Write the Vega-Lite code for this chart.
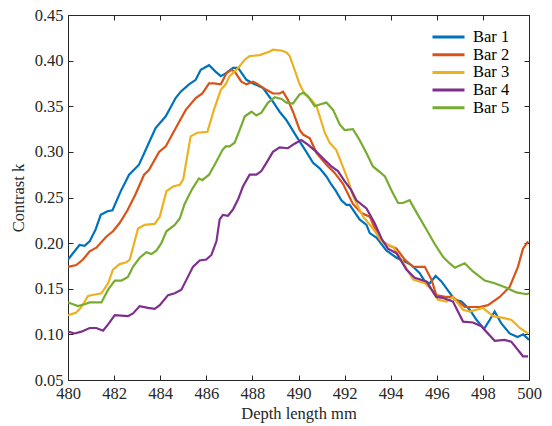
{
  "$schema": "https://vega.github.io/schema/vega-lite/v6.json",
  "autosize": {"type": "none"},
  "padding": {"left": 68, "top": 15, "right": 23, "bottom": 46},
  "width": 461,
  "height": 365,
  "background": "white",
  "config": {
    "view": {"stroke": "#262626", "strokeWidth": 1},
    "font": "Times New Roman",
    "axis": {"grid": false, "domain": false, "labelFont": "Times New Roman", "titleFont": "Times New Roman", "labelColor": "#262626", "titleColor": "#262626", "tickColor": "#262626", "labelFontSize": 16.5, "titleFontSize": 16.5, "titleFontWeight": "normal", "tickSize": -5, "tickWidth": 1},
    "legend": {"labelFont": "Times New Roman", "labelFontSize": 16.5, "labelColor": "#000000"}
  },
  "datasets": {
    "d": [
      {"s":"Bar 1","x":480.0,"y":0.182},{"s":"Bar 1","x":480.5,"y":0.198},{"s":"Bar 1","x":480.72,"y":0.197},{"s":"Bar 1","x":480.94,"y":0.202},{"s":"Bar 1","x":481.2,"y":0.215},{"s":"Bar 1","x":481.42,"y":0.231},{"s":"Bar 1","x":481.71,"y":0.235},{"s":"Bar 1","x":481.93,"y":0.236},{"s":"Bar 1","x":482.29,"y":0.257},{"s":"Bar 1","x":482.65,"y":0.275},{"s":"Bar 1","x":483.08,"y":0.286},{"s":"Bar 1","x":483.51,"y":0.31},{"s":"Bar 1","x":483.8,"y":0.326},{"s":"Bar 1","x":484.24,"y":0.339},{"s":"Bar 1","x":484.67,"y":0.359},{"s":"Bar 1","x":484.89,"y":0.366},{"s":"Bar 1","x":485.25,"y":0.374},{"s":"Bar 1","x":485.54,"y":0.379},{"s":"Bar 1","x":485.76,"y":0.39},{"s":"Bar 1","x":486.12,"y":0.395},{"s":"Bar 1","x":486.4,"y":0.388},{"s":"Bar 1","x":486.63,"y":0.383},{"s":"Bar 1","x":486.84,"y":0.386},{"s":"Bar 1","x":487.16,"y":0.392},{"s":"Bar 1","x":487.38,"y":0.392},{"s":"Bar 1","x":487.74,"y":0.379},{"s":"Bar 1","x":488.03,"y":0.375},{"s":"Bar 1","x":488.46,"y":0.37},{"s":"Bar 1","x":488.89,"y":0.355},{"s":"Bar 1","x":489.18,"y":0.344},{"s":"Bar 1","x":489.47,"y":0.335},{"s":"Bar 1","x":489.91,"y":0.317},{"s":"Bar 1","x":490.34,"y":0.3},{"s":"Bar 1","x":490.63,"y":0.288},{"s":"Bar 1","x":490.92,"y":0.282},{"s":"Bar 1","x":491.21,"y":0.273},{"s":"Bar 1","x":491.43,"y":0.264},{"s":"Bar 1","x":491.6,"y":0.258},{"s":"Bar 1","x":491.86,"y":0.247},{"s":"Bar 1","x":492.08,"y":0.242},{"s":"Bar 1","x":492.22,"y":0.242},{"s":"Bar 1","x":492.65,"y":0.226},{"s":"Bar 1","x":492.95,"y":0.22},{"s":"Bar 1","x":493.09,"y":0.211},{"s":"Bar 1","x":493.38,"y":0.206},{"s":"Bar 1","x":493.81,"y":0.192},{"s":"Bar 1","x":494.25,"y":0.184},{"s":"Bar 1","x":494.68,"y":0.179},{"s":"Bar 1","x":494.9,"y":0.176},{"s":"Bar 1","x":495.26,"y":0.167},{"s":"Bar 1","x":495.48,"y":0.158},{"s":"Bar 1","x":495.7,"y":0.156},{"s":"Bar 1","x":495.95,"y":0.164},{"s":"Bar 1","x":496.2,"y":0.158},{"s":"Bar 1","x":496.49,"y":0.148},{"s":"Bar 1","x":496.78,"y":0.138},{"s":"Bar 1","x":497.07,"y":0.136},{"s":"Bar 1","x":497.43,"y":0.127},{"s":"Bar 1","x":497.72,"y":0.116},{"s":"Bar 1","x":498.05,"y":0.106},{"s":"Bar 1","x":498.3,"y":0.116},{"s":"Bar 1","x":498.51,"y":0.125},{"s":"Bar 1","x":498.8,"y":0.112},{"s":"Bar 1","x":499.16,"y":0.101},{"s":"Bar 1","x":499.5,"y":0.097},{"s":"Bar 1","x":499.75,"y":0.1},{"s":"Bar 1","x":500.0,"y":0.094},
      {"s":"Bar 2","x":480.0,"y":0.174},{"s":"Bar 2","x":480.36,"y":0.176},{"s":"Bar 2","x":480.65,"y":0.182},{"s":"Bar 2","x":480.94,"y":0.191},{"s":"Bar 2","x":481.23,"y":0.195},{"s":"Bar 2","x":481.66,"y":0.207},{"s":"Bar 2","x":481.95,"y":0.213},{"s":"Bar 2","x":482.24,"y":0.222},{"s":"Bar 2","x":482.58,"y":0.236},{"s":"Bar 2","x":482.92,"y":0.253},{"s":"Bar 2","x":483.3,"y":0.275},{"s":"Bar 2","x":483.51,"y":0.28},{"s":"Bar 2","x":483.95,"y":0.3},{"s":"Bar 2","x":484.24,"y":0.306},{"s":"Bar 2","x":484.67,"y":0.326},{"s":"Bar 2","x":485.11,"y":0.346},{"s":"Bar 2","x":485.54,"y":0.359},{"s":"Bar 2","x":485.83,"y":0.364},{"s":"Bar 2","x":486.12,"y":0.375},{"s":"Bar 2","x":486.33,"y":0.375},{"s":"Bar 2","x":486.63,"y":0.374},{"s":"Bar 2","x":486.87,"y":0.386},{"s":"Bar 2","x":487.09,"y":0.39},{"s":"Bar 2","x":487.23,"y":0.388},{"s":"Bar 2","x":487.52,"y":0.377},{"s":"Bar 2","x":487.74,"y":0.374},{"s":"Bar 2","x":488.03,"y":0.377},{"s":"Bar 2","x":488.24,"y":0.374},{"s":"Bar 2","x":488.61,"y":0.368},{"s":"Bar 2","x":488.89,"y":0.364},{"s":"Bar 2","x":489.18,"y":0.364},{"s":"Bar 2","x":489.33,"y":0.366},{"s":"Bar 2","x":489.54,"y":0.357},{"s":"Bar 2","x":489.76,"y":0.344},{"s":"Bar 2","x":490.05,"y":0.324},{"s":"Bar 2","x":490.2,"y":0.319},{"s":"Bar 2","x":490.49,"y":0.315},{"s":"Bar 2","x":490.78,"y":0.299},{"s":"Bar 2","x":491.21,"y":0.286},{"s":"Bar 2","x":491.57,"y":0.277},{"s":"Bar 2","x":491.93,"y":0.265},{"s":"Bar 2","x":492.36,"y":0.243},{"s":"Bar 2","x":492.73,"y":0.233},{"s":"Bar 2","x":493.09,"y":0.229},{"s":"Bar 2","x":493.52,"y":0.204},{"s":"Bar 2","x":493.88,"y":0.198},{"s":"Bar 2","x":494.25,"y":0.194},{"s":"Bar 2","x":494.61,"y":0.182},{"s":"Bar 2","x":494.97,"y":0.174},{"s":"Bar 2","x":495.48,"y":0.174},{"s":"Bar 2","x":495.77,"y":0.16},{"s":"Bar 2","x":495.98,"y":0.143},{"s":"Bar 2","x":496.42,"y":0.141},{"s":"Bar 2","x":496.7,"y":0.141},{"s":"Bar 2","x":497.21,"y":0.13},{"s":"Bar 2","x":497.86,"y":0.13},{"s":"Bar 2","x":498.22,"y":0.132},{"s":"Bar 2","x":498.73,"y":0.141},{"s":"Bar 2","x":499.16,"y":0.152},{"s":"Bar 2","x":499.52,"y":0.174},{"s":"Bar 2","x":499.74,"y":0.194},{"s":"Bar 2","x":499.96,"y":0.202},
      {"s":"Bar 3","x":480.0,"y":0.121},{"s":"Bar 3","x":480.36,"y":0.124},{"s":"Bar 3","x":480.58,"y":0.13},{"s":"Bar 3","x":480.87,"y":0.142},{"s":"Bar 3","x":481.23,"y":0.144},{"s":"Bar 3","x":481.45,"y":0.145},{"s":"Bar 3","x":481.74,"y":0.156},{"s":"Bar 3","x":481.95,"y":0.171},{"s":"Bar 3","x":482.24,"y":0.177},{"s":"Bar 3","x":482.53,"y":0.179},{"s":"Bar 3","x":482.68,"y":0.182},{"s":"Bar 3","x":483.04,"y":0.216},{"s":"Bar 3","x":483.33,"y":0.22},{"s":"Bar 3","x":483.76,"y":0.221},{"s":"Bar 3","x":483.98,"y":0.229},{"s":"Bar 3","x":484.27,"y":0.257},{"s":"Bar 3","x":484.56,"y":0.262},{"s":"Bar 3","x":484.85,"y":0.264},{"s":"Bar 3","x":485.0,"y":0.27},{"s":"Bar 3","x":485.32,"y":0.317},{"s":"Bar 3","x":485.61,"y":0.321},{"s":"Bar 3","x":486.05,"y":0.322},{"s":"Bar 3","x":486.33,"y":0.346},{"s":"Bar 3","x":486.63,"y":0.368},{"s":"Bar 3","x":486.84,"y":0.374},{"s":"Bar 3","x":487.01,"y":0.383},{"s":"Bar 3","x":487.38,"y":0.392},{"s":"Bar 3","x":487.67,"y":0.401},{"s":"Bar 3","x":487.88,"y":0.405},{"s":"Bar 3","x":488.32,"y":0.406},{"s":"Bar 3","x":488.75,"y":0.41},{"s":"Bar 3","x":488.89,"y":0.412},{"s":"Bar 3","x":489.26,"y":0.411},{"s":"Bar 3","x":489.48,"y":0.409},{"s":"Bar 3","x":489.62,"y":0.405},{"s":"Bar 3","x":489.83,"y":0.39},{"s":"Bar 3","x":490.05,"y":0.374},{"s":"Bar 3","x":490.27,"y":0.363},{"s":"Bar 3","x":490.56,"y":0.357},{"s":"Bar 3","x":490.78,"y":0.35},{"s":"Bar 3","x":490.92,"y":0.339},{"s":"Bar 3","x":491.14,"y":0.321},{"s":"Bar 3","x":491.35,"y":0.31},{"s":"Bar 3","x":491.64,"y":0.302},{"s":"Bar 3","x":491.86,"y":0.288},{"s":"Bar 3","x":492.15,"y":0.269},{"s":"Bar 3","x":492.36,"y":0.252},{"s":"Bar 3","x":492.8,"y":0.229},{"s":"Bar 3","x":493.23,"y":0.216},{"s":"Bar 3","x":493.67,"y":0.2},{"s":"Bar 3","x":494.1,"y":0.196},{"s":"Bar 3","x":494.39,"y":0.185},{"s":"Bar 3","x":494.97,"y":0.16},{"s":"Bar 3","x":495.48,"y":0.156},{"s":"Bar 3","x":495.77,"y":0.149},{"s":"Bar 3","x":496.05,"y":0.138},{"s":"Bar 3","x":496.42,"y":0.136},{"s":"Bar 3","x":496.7,"y":0.141},{"s":"Bar 3","x":497.14,"y":0.127},{"s":"Bar 3","x":497.43,"y":0.125},{"s":"Bar 3","x":498.0,"y":0.129},{"s":"Bar 3","x":498.44,"y":0.12},{"s":"Bar 3","x":498.87,"y":0.118},{"s":"Bar 3","x":499.23,"y":0.116},{"s":"Bar 3","x":499.6,"y":0.107},{"s":"Bar 3","x":499.96,"y":0.101},
      {"s":"Bar 4","x":480.0,"y":0.103},{"s":"Bar 4","x":480.29,"y":0.101},{"s":"Bar 4","x":480.58,"y":0.103},{"s":"Bar 4","x":480.94,"y":0.107},{"s":"Bar 4","x":481.23,"y":0.107},{"s":"Bar 4","x":481.52,"y":0.104},{"s":"Bar 4","x":481.74,"y":0.111},{"s":"Bar 4","x":482.03,"y":0.121},{"s":"Bar 4","x":482.6,"y":0.12},{"s":"Bar 4","x":482.82,"y":0.123},{"s":"Bar 4","x":483.11,"y":0.131},{"s":"Bar 4","x":483.47,"y":0.129},{"s":"Bar 4","x":483.76,"y":0.128},{"s":"Bar 4","x":483.98,"y":0.132},{"s":"Bar 4","x":484.34,"y":0.143},{"s":"Bar 4","x":484.63,"y":0.145},{"s":"Bar 4","x":484.92,"y":0.149},{"s":"Bar 4","x":485.14,"y":0.16},{"s":"Bar 4","x":485.42,"y":0.174},{"s":"Bar 4","x":485.71,"y":0.181},{"s":"Bar 4","x":486.0,"y":0.182},{"s":"Bar 4","x":486.22,"y":0.187},{"s":"Bar 4","x":486.44,"y":0.202},{"s":"Bar 4","x":486.58,"y":0.226},{"s":"Bar 4","x":486.72,"y":0.231},{"s":"Bar 4","x":486.94,"y":0.23},{"s":"Bar 4","x":487.16,"y":0.237},{"s":"Bar 4","x":487.38,"y":0.248},{"s":"Bar 4","x":487.59,"y":0.262},{"s":"Bar 4","x":487.88,"y":0.275},{"s":"Bar 4","x":488.17,"y":0.275},{"s":"Bar 4","x":488.39,"y":0.279},{"s":"Bar 4","x":488.68,"y":0.291},{"s":"Bar 4","x":488.89,"y":0.3},{"s":"Bar 4","x":489.18,"y":0.305},{"s":"Bar 4","x":489.54,"y":0.304},{"s":"Bar 4","x":489.83,"y":0.309},{"s":"Bar 4","x":490.12,"y":0.313},{"s":"Bar 4","x":490.41,"y":0.308},{"s":"Bar 4","x":490.78,"y":0.3},{"s":"Bar 4","x":491.06,"y":0.293},{"s":"Bar 4","x":491.43,"y":0.284},{"s":"Bar 4","x":491.71,"y":0.279},{"s":"Bar 4","x":492.0,"y":0.268},{"s":"Bar 4","x":492.29,"y":0.258},{"s":"Bar 4","x":492.51,"y":0.247},{"s":"Bar 4","x":492.95,"y":0.238},{"s":"Bar 4","x":493.3,"y":0.222},{"s":"Bar 4","x":493.6,"y":0.205},{"s":"Bar 4","x":493.88,"y":0.194},{"s":"Bar 4","x":494.25,"y":0.189},{"s":"Bar 4","x":494.68,"y":0.171},{"s":"Bar 4","x":495.04,"y":0.162},{"s":"Bar 4","x":495.55,"y":0.158},{"s":"Bar 4","x":495.98,"y":0.141},{"s":"Bar 4","x":496.27,"y":0.14},{"s":"Bar 4","x":496.7,"y":0.136},{"s":"Bar 4","x":497.14,"y":0.114},{"s":"Bar 4","x":497.57,"y":0.113},{"s":"Bar 4","x":497.93,"y":0.109},{"s":"Bar 4","x":498.51,"y":0.093},{"s":"Bar 4","x":498.94,"y":0.094},{"s":"Bar 4","x":499.23,"y":0.092},{"s":"Bar 4","x":499.74,"y":0.076},{"s":"Bar 4","x":499.96,"y":0.076},
      {"s":"Bar 5","x":480.0,"y":0.135},{"s":"Bar 5","x":480.22,"y":0.133},{"s":"Bar 5","x":480.43,"y":0.131},{"s":"Bar 5","x":480.72,"y":0.133},{"s":"Bar 5","x":480.94,"y":0.135},{"s":"Bar 5","x":481.45,"y":0.135},{"s":"Bar 5","x":481.74,"y":0.149},{"s":"Bar 5","x":482.03,"y":0.159},{"s":"Bar 5","x":482.32,"y":0.159},{"s":"Bar 5","x":482.6,"y":0.163},{"s":"Bar 5","x":482.82,"y":0.174},{"s":"Bar 5","x":483.11,"y":0.184},{"s":"Bar 5","x":483.4,"y":0.19},{"s":"Bar 5","x":483.62,"y":0.188},{"s":"Bar 5","x":483.84,"y":0.192},{"s":"Bar 5","x":484.05,"y":0.2},{"s":"Bar 5","x":484.27,"y":0.213},{"s":"Bar 5","x":484.63,"y":0.22},{"s":"Bar 5","x":484.85,"y":0.227},{"s":"Bar 5","x":485.06,"y":0.243},{"s":"Bar 5","x":485.38,"y":0.259},{"s":"Bar 5","x":485.68,"y":0.271},{"s":"Bar 5","x":485.83,"y":0.269},{"s":"Bar 5","x":486.12,"y":0.275},{"s":"Bar 5","x":486.41,"y":0.288},{"s":"Bar 5","x":486.7,"y":0.302},{"s":"Bar 5","x":486.84,"y":0.306},{"s":"Bar 5","x":487.01,"y":0.306},{"s":"Bar 5","x":487.23,"y":0.31},{"s":"Bar 5","x":487.45,"y":0.324},{"s":"Bar 5","x":487.67,"y":0.339},{"s":"Bar 5","x":487.96,"y":0.344},{"s":"Bar 5","x":488.17,"y":0.34},{"s":"Bar 5","x":488.39,"y":0.343},{"s":"Bar 5","x":488.68,"y":0.354},{"s":"Bar 5","x":488.97,"y":0.36},{"s":"Bar 5","x":489.26,"y":0.358},{"s":"Bar 5","x":489.48,"y":0.354},{"s":"Bar 5","x":489.76,"y":0.353},{"s":"Bar 5","x":490.05,"y":0.363},{"s":"Bar 5","x":490.23,"y":0.365},{"s":"Bar 5","x":490.41,"y":0.361},{"s":"Bar 5","x":490.7,"y":0.35},{"s":"Bar 5","x":490.92,"y":0.352},{"s":"Bar 5","x":491.21,"y":0.354},{"s":"Bar 5","x":491.5,"y":0.346},{"s":"Bar 5","x":491.79,"y":0.33},{"s":"Bar 5","x":492.0,"y":0.324},{"s":"Bar 5","x":492.36,"y":0.325},{"s":"Bar 5","x":492.65,"y":0.313},{"s":"Bar 5","x":492.94,"y":0.299},{"s":"Bar 5","x":493.23,"y":0.284},{"s":"Bar 5","x":493.52,"y":0.278},{"s":"Bar 5","x":493.75,"y":0.273},{"s":"Bar 5","x":494.03,"y":0.258},{"s":"Bar 5","x":494.32,"y":0.244},{"s":"Bar 5","x":494.53,"y":0.244},{"s":"Bar 5","x":494.82,"y":0.247},{"s":"Bar 5","x":495.18,"y":0.231},{"s":"Bar 5","x":495.55,"y":0.215},{"s":"Bar 5","x":495.91,"y":0.199},{"s":"Bar 5","x":496.27,"y":0.185},{"s":"Bar 5","x":496.55,"y":0.178},{"s":"Bar 5","x":496.78,"y":0.173},{"s":"Bar 5","x":497.21,"y":0.178},{"s":"Bar 5","x":497.57,"y":0.169},{"s":"Bar 5","x":498.08,"y":0.159},{"s":"Bar 5","x":498.51,"y":0.156},{"s":"Bar 5","x":499.02,"y":0.151},{"s":"Bar 5","x":499.45,"y":0.146},{"s":"Bar 5","x":499.89,"y":0.144},{"s":"Bar 5","x":500.0,"y":0.145}
    ]
  },
  "data": {"name": "d"},
  "layer": [
    {
      "mark": {"type": "line", "strokeWidth": 2.2, "clip": true},
      "encoding": {
        "x": {"field": "x", "type": "quantitative", "scale": {"domain": [480, 500], "nice": false, "zero": false}, "axis": {"orient": "bottom", "values": [480,482,484,486,488,490,492,494,496,498,500], "title": "Depth length mm", "labelFont": "Times New Roman", "titleFont": "Times New Roman", "labelPadding": 10, "titlePadding": 4, "labelFlush": false}},
        "y": {"field": "y", "type": "quantitative", "scale": {"domain": [0.05, 0.45], "nice": false, "zero": false}, "axis": {"orient": "left", "values": [0.05,0.1,0.15,0.2,0.25,0.3,0.35,0.4,0.45], "format": ".2f", "title": "Contrast k", "labelFont": "Times New Roman", "titleFont": "Times New Roman", "labelPadding": 10, "titlePadding": 8, "labelFlush": false}},
        "color": {"field": "s", "type": "nominal", "scale": {"domain": ["Bar 1","Bar 2","Bar 3","Bar 4","Bar 5"], "range": ["#0072BD","#D95319","#EDB120","#7E2F8E","#77AC30"]}, "legend": {"title": null, "orient": "none", "legendX": 363, "legendY": 14, "labelFont": "Times New Roman", "labelFontSize": 16.5, "symbolType": "stroke", "symbolSize": 1024, "symbolStrokeWidth": 3, "clipHeight": 16, "rowPadding": 0.7, "labelOffset": 7}},
        "order": {"field": "x", "type": "quantitative"}
      }
    },
    {
      "mark": {"type": "line", "opacity": 0},
      "encoding": {
        "x": {"field": "x", "type": "quantitative", "axis": {"orient": "top", "values": [480,482,484,486,488,490,492,494,496,498,500], "labels": false, "title": null}},
        "y": {"field": "y", "type": "quantitative", "axis": {"orient": "right", "values": [0.05,0.1,0.15,0.2,0.25,0.3,0.35,0.4,0.45], "labels": false, "title": null}},
        "detail": {"field": "s"}
      }
    }
  ],
  "resolve": {"axis": {"x": "independent", "y": "independent"}}
}
